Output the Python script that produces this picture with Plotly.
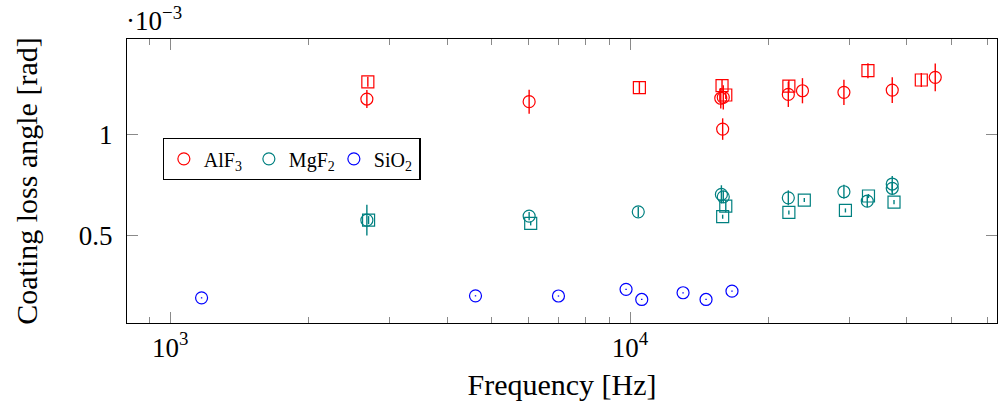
import plotly.graph_objects as go

# ---- data (loss angle in units of 1e-3 rad) ----
alf3_c_freq = [2677, 6033, 15750, 15950, 15900, 22090, 23710, 29180, 37170, 46100]
alf3_c_loss = [1.174, 1.161, 1.178, 1.182, 1.026, 1.197, 1.215, 1.207, 1.218, 1.281]
alf3_c_err = [0.044, 0.059, 0.05, 0.06, 0.053, 0.062, 0.062, 0.062, 0.063, 0.068]

alf3_s_freq = [2690, 10478, 15850, 16150, 22150, 32910, 42990]
alf3_s_loss = [1.259, 1.230, 1.240, 1.194, 1.238, 1.314, 1.268]
alf3_s_err = [0.025, 0.03, 0.03, 0.02, 0.03, 0.037, 0.035]

mgf2_c_freq = [2677, 6033, 10420, 15800, 15950, 22090, 29180, 32800, 37170, 37170]
mgf2_c_loss = [0.577, 0.597, 0.618, 0.704, 0.692, 0.687, 0.717, 0.671, 0.755, 0.734]
mgf2_c_err = [0.076, 0.02, 0.025, 0.045, 0.03, 0.037, 0.035, 0.03, 0.04, 0.03]

mgf2_s_freq = [2700, 6080, 16150, 15900, 22150, 23930, 29400, 33000, 37500]
mgf2_s_loss = [0.577, 0.561, 0.646, 0.594, 0.615, 0.676, 0.625, 0.696, 0.666]
mgf2_s_err = [0.02, 0.01, 0.03, 0.01, 0.01, 0.01, 0.01, 0.01, 0.01]

sio2_freq = [1170, 4612, 6987, 9802, 10603, 13040, 14630, 16660]
sio2_loss = [0.194, 0.204, 0.203, 0.236, 0.186, 0.219, 0.186, 0.227]
sio2_err = [0.003, 0.003, 0.003, 0.003, 0.003, 0.003, 0.003, 0.003]

x_tickvals = [1000, 10000]
x_ticktext = ["10<sup>3</sup>", "10<sup>4</sup>"]
x_minor = [900, 2000, 3000, 4000, 5000, 6000, 7000, 8000, 9000,
           20000, 30000, 40000, 50000, 60000]
y_tickvals = [0.5, 1.0]
y_ticktext = ["0.5", "1"]

RED = "#ff0000"
TEAL = "#008080"
BLUE = "#0000ff"
FONT = "Liberation Serif"

fig = go.Figure()


def add(freq, loss, err, color, symbol, name, show):
    fig.add_trace(go.Scatter(
        x=freq, y=loss, mode="markers", name=name, showlegend=show,
        marker=dict(symbol=symbol, size=12, color=color,
                    line=dict(color=color, width=1.2)),
        error_y=dict(type="data", array=err, visible=True, color=color,
                     thickness=1.4, width=0),
    ))


add(alf3_s_freq, alf3_s_loss, alf3_s_err, RED, "square-open", "AlF3 sq", False)
add(mgf2_s_freq, mgf2_s_loss, mgf2_s_err, TEAL, "square-open", "MgF2 sq", False)
add(alf3_c_freq, alf3_c_loss, alf3_c_err, RED, "circle-open", "AlF<sub>3</sub>", True)
add(mgf2_c_freq, mgf2_c_loss, mgf2_c_err, TEAL, "circle-open", "MgF<sub>2</sub>", True)
add(sio2_freq, sio2_loss, sio2_err, BLUE, "circle-open", "SiO<sub>2</sub>", True)

fig.update_xaxes(
    type="log", range=[2.906, 4.798],
    tickmode="array", tickvals=x_tickvals, ticktext=x_ticktext,
    ticks="inside", ticklen=11, tickcolor="#8a8a8a", tickwidth=1,
    minor=dict(tickmode="array", tickvals=x_minor, ticks="inside",
               ticklen=6, tickcolor="#8a8a8a", tickwidth=1, showgrid=False),
    showline=True, linecolor="black", linewidth=1.2, mirror="allticks",
    showgrid=False, zeroline=False,
    tickfont=dict(family=FONT, size=27, color="black"),
    title=dict(text="Frequency [Hz]", font=dict(family=FONT, size=30, color="black"),
               standoff=12),
)
fig.update_yaxes(
    range=[0.07, 1.47],
    tickmode="array", tickvals=y_tickvals, ticktext=y_ticktext,
    ticks="inside", ticklen=11, tickcolor="#8a8a8a", tickwidth=1,
    showline=True, linecolor="black", linewidth=1.2, mirror="allticks",
    showgrid=False, zeroline=False,
    tickfont=dict(family=FONT, size=27, color="black"),
    ticklabelstandoff=8,
    title=dict(text="Coating loss angle [rad]", font=dict(family=FONT, size=30, color="black"),
               standoff=32),
)

fig.add_annotation(
    xref="paper", yref="paper", x=-0.004, y=1.0, xanchor="left", yanchor="bottom",
    text="·10<sup>−3</sup>", showarrow=False, yshift=1,
    font=dict(family=FONT, size=27, color="black"),
)

fig.update_layout(
    width=998, height=413,
    margin=dict(l=127, r=1, t=39, b=90, autoexpand=False),
    paper_bgcolor="white", plot_bgcolor="white",
    showlegend=True,
    legend=dict(
        orientation="h", x=0.041, y=0.651, xanchor="left", yanchor="top",
        bordercolor="black", borderwidth=1.2, bgcolor="white",
        font=dict(family=FONT, size=20, color="black"),
        itemwidth=30, tracegroupgap=0,
        entrywidth=40, entrywidthmode="pixels",
    ),
)

fig.write_html("out.html")
